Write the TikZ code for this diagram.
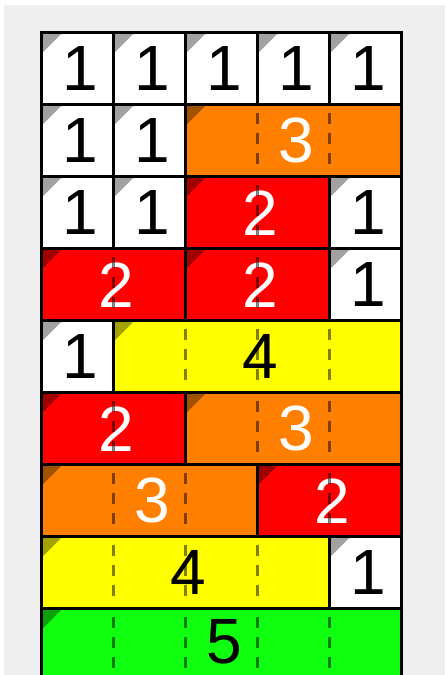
\documentclass[tikz,border=0pt]{standalone}
\usepackage{fontspec}
\setmainfont{Liberation Sans}
\definecolor{bg}{HTML}{EFEFEF}
\definecolor{pwhite}{HTML}{FFFFFF}
\definecolor{porange}{HTML}{FF7F00}
\definecolor{pred}{HTML}{FF0000}
\definecolor{pyellow}{HTML}{FFFF00}
\definecolor{pgreen}{HTML}{10FF10}
\tikzset{
  cellfill/.style={draw=none, inner sep=0pt, anchor=north west,
    font=\fontsize{64}{64}\selectfont},
  cellborder/.style={draw=black, line width=3pt},
  seam/.style={draw=black, opacity=0.5, line width=2.6pt, dash pattern=on 11.5pt off 8.5pt},
}
% #1 name, #2 row, #3 column, #4 span, #5 number, #6 fill, #7 text colour, #8 visible height
\newcommand\pcell[8]{%
  \pgfmathsetmacro\pcxa{41.5+72*(#3-1)}%
  \pgfmathsetmacro\pcya{32.5+72*(#2-1)}%
  \pgfmathsetmacro\pcw{72*#4}%
  \node[cellfill, fill=#6, text=#7, minimum width=\pcw pt, minimum height=#8pt] (#1) at (\pcxa,\pcya) {\hspace{6pt}#5};
  \fill[#6!63!black] ([shift={(1.5,1.5)}]#1.north west) -- ++(18,0) -- ++(-18,18) -- cycle;
  \ifnum#4>1
    \pgfmathtruncatemacro\pcn{#4-1}%
    \foreach \k in {1,...,\pcn}{%
      \draw[seam] ([shift={(72*\k,8)}]#1.north west) -- ([shift={(72*\k,59.5)}]#1.north west);
    }%
  \fi
  \draw[cellborder] (#1.north west) rectangle ([yshift={-(72-#8)}]#1.south east);
}
\begin{document}
\begin{tikzpicture}[x=1pt,y=-1pt]
\useasboundingbox (0,0) rectangle (445,675);
\fill[white] (0,0) rectangle (445,675);
\fill[bg] (4,5) rectangle (445,675);
% row 1
\pcell{a1}{1}{1}{1}{1}{pwhite}{black}{72}
\pcell{a2}{1}{2}{1}{1}{pwhite}{black}{72}
\pcell{a3}{1}{3}{1}{1}{pwhite}{black}{72}
\pcell{a4}{1}{4}{1}{1}{pwhite}{black}{72}
\pcell{a5}{1}{5}{1}{1}{pwhite}{black}{72}
% row 2
\pcell{b1}{2}{1}{1}{1}{pwhite}{black}{72}
\pcell{b2}{2}{2}{1}{1}{pwhite}{black}{72}
\pcell{b3}{2}{3}{3}{3}{porange}{white}{72}
% row 3
\pcell{c1}{3}{1}{1}{1}{pwhite}{black}{72}
\pcell{c2}{3}{2}{1}{1}{pwhite}{black}{72}
\pcell{c3}{3}{3}{2}{2}{pred}{white}{72}
\pcell{c5}{3}{5}{1}{1}{pwhite}{black}{72}
% row 4
\pcell{d1}{4}{1}{2}{2}{pred}{white}{72}
\pcell{d3}{4}{3}{2}{2}{pred}{white}{72}
\pcell{d5}{4}{5}{1}{1}{pwhite}{black}{72}
% row 5
\pcell{e1}{5}{1}{1}{1}{pwhite}{black}{72}
\pcell{e2}{5}{2}{4}{4}{pyellow}{black}{72}
% row 6
\pcell{f1}{6}{1}{2}{2}{pred}{white}{72}
\pcell{f3}{6}{3}{3}{3}{porange}{white}{72}
% row 7
\pcell{g1}{7}{1}{3}{3}{porange}{white}{72}
\pcell{g4}{7}{4}{2}{2}{pred}{white}{72}
% row 8
\pcell{h1}{8}{1}{4}{4}{pyellow}{black}{72}
\pcell{h5}{8}{5}{1}{1}{pwhite}{black}{72}
% row 9 (cut by the lower edge of the picture)
\pcell{i1}{9}{1}{5}{5}{pgreen}{black}{66.5}
\end{tikzpicture}
\end{document}
